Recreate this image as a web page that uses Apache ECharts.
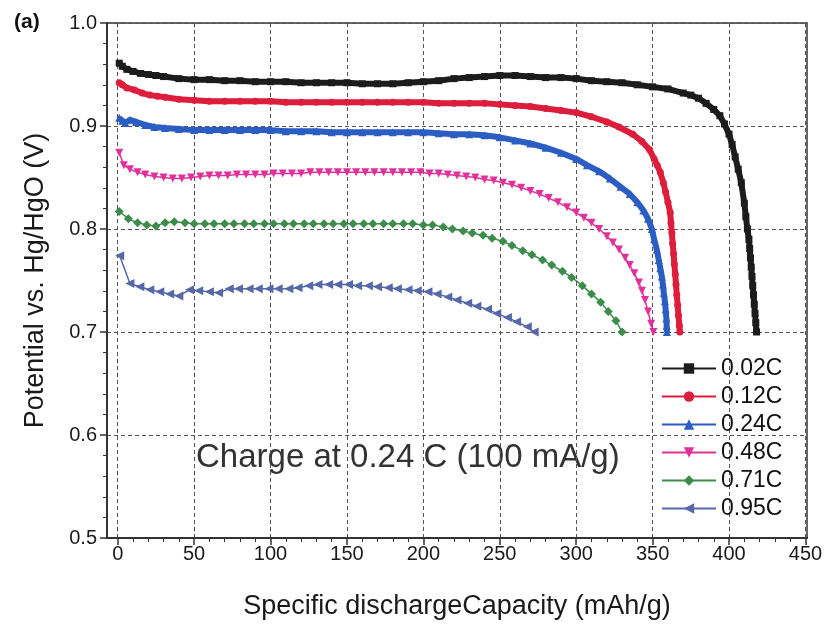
<!DOCTYPE html>
<html><head><meta charset="utf-8">
<script src="https://cdn.jsdelivr.net/npm/echarts@6/dist/echarts.min.js"></script>
<style>html,body{margin:0;padding:0;background:#fff}#c{width:826px;height:625px}</style>
</head><body><div id="c"></div>
<script>
const seriesNames = ['0.02C','0.12C','0.24C','0.48C','0.71C','0.95C'];
const xTickValues = [0,50,100,150,200,250,300,350,400,450];
const xMinorTickValues = [10,20,30,40,60,70,80,90,110,120,130,140,160,170,180,190,210,220,230,240,260,270,280,290,310,320,330,340,360,370,380,390,410,420,430,440];

const d002 = [[1,0.961],[3,0.958],[6,0.955],[10,0.953],[15,0.951],[20,0.950],[25,0.949],[30,0.948],[40,0.946],[50,0.945],[60,0.945],[70,0.944],[80,0.944],[90,0.943],[100,0.943],[110,0.943],[120,0.942],[130,0.942],[140,0.942],[150,0.942],[160,0.941],[170,0.941],[180,0.941],[190,0.942],[200,0.943],[210,0.944],[220,0.946],[230,0.947],[240,0.948],[250,0.949],[260,0.949],[270,0.948],[280,0.947],[290,0.947],[300,0.946],[310,0.944],[320,0.943],[330,0.942],[340,0.940],[350,0.938],[360,0.936],[370,0.932],[375,0.930],[380,0.927],[385,0.922],[390,0.916],[394,0.910],[397,0.902],[400,0.892],[402,0.882],[404,0.870],[406,0.858],[408,0.845],[410,0.825],[411,0.812],[412,0.800],[413,0.790],[413.5,0.781],[414,0.772],[414.5,0.763],[415,0.754],[415.5,0.745],[416,0.736],[416.5,0.727],[417,0.718],[417.5,0.709],[418,0.700]];

const d012 = [[1,0.942],[3,0.940],[6,0.937],[11,0.935],[16,0.932],[21,0.930],[26,0.929],[31,0.928],[40,0.926],[50,0.925],[60,0.924],[70,0.924],[80,0.924],[90,0.924],[100,0.924],[110,0.923],[120,0.923],[130,0.923],[140,0.923],[150,0.923],[160,0.923],[170,0.923],[180,0.923],[190,0.923],[200,0.923],[210,0.922],[220,0.922],[230,0.922],[240,0.922],[250,0.921],[260,0.920],[270,0.919],[280,0.917],[290,0.915],[300,0.913],[310,0.909],[320,0.904],[328,0.899],[337,0.892],[343,0.885],[348,0.877],[351,0.868],[353,0.862],[355,0.855],[357,0.845],[358.5,0.836],[360,0.826],[361.5,0.816],[362,0.806],[362.6,0.796],[363.1,0.786],[363.7,0.776],[364.2,0.766],[364.8,0.756],[365.3,0.746],[365.8,0.736],[366.4,0.726],[366.9,0.716],[367.5,0.706],[367.8,0.700]];

const d024 = [[1,0.908],[3,0.905],[5,0.903],[8,0.906],[12,0.904],[18,0.901],[24,0.899],[31,0.898],[40,0.897],[50,0.896],[60,0.896],[70,0.896],[80,0.896],[90,0.896],[100,0.896],[110,0.895],[120,0.895],[130,0.895],[140,0.894],[150,0.894],[160,0.894],[170,0.894],[180,0.894],[190,0.894],[200,0.894],[210,0.893],[220,0.892],[230,0.892],[240,0.891],[250,0.889],[260,0.886],[270,0.883],[280,0.879],[290,0.874],[300,0.868],[307,0.862],[315,0.856],[322,0.849],[329,0.841],[335,0.834],[340,0.826],[344,0.818],[347,0.810],[349.5,0.800],[351,0.790],[352.7,0.780],[354,0.770],[355,0.762],[356,0.754],[356.7,0.746],[357.3,0.738],[358,0.730],[358.5,0.722],[359,0.713],[359.2,0.706],[359.3,0.700]];

const d048 = [[1,0.874],[4,0.862],[8,0.858],[13,0.855],[18,0.853],[24,0.851],[30,0.850],[36,0.849],[42,0.849],[48,0.850],[54,0.851],[60,0.852],[66,0.852],[72,0.852],[78,0.853],[84,0.853],[90,0.853],[96,0.853],[102,0.854],[108,0.854],[114,0.854],[120,0.854],[126,0.855],[132,0.855],[138,0.855],[144,0.855],[150,0.855],[156,0.855],[162,0.855],[168,0.855],[174,0.855],[180,0.855],[186,0.855],[192,0.855],[198,0.855],[204,0.854],[210,0.854],[216,0.853],[222,0.852],[228,0.851],[234,0.850],[240,0.848],[246,0.847],[252,0.845],[258,0.843],[264,0.840],[270,0.837],[276,0.834],[282,0.830],[288,0.826],[294,0.821],[300,0.816],[305,0.811],[310,0.806],[315,0.800],[320,0.793],[324,0.787],[328,0.780],[332,0.772],[335,0.765],[338,0.757],[341,0.748],[343,0.740],[345,0.731],[347,0.720],[349,0.708],[350.5,0.700]];

const d071 = [[1,0.817],[7,0.810],[13,0.806],[19,0.804],[25,0.803],[31,0.806],[37,0.807],[44,0.806],[50,0.805],[57,0.805],[63,0.805],[70,0.805],[76,0.805],[83,0.805],[89,0.805],[96,0.805],[102,0.805],[109,0.805],[115,0.805],[122,0.805],[128,0.805],[135,0.805],[141,0.805],[148,0.805],[154,0.805],[161,0.805],[167,0.805],[174,0.805],[180,0.805],[187,0.805],[193,0.805],[200,0.804],[206,0.804],[213,0.802],[219,0.800],[226,0.798],[232,0.796],[239,0.794],[245,0.791],[252,0.788],[258,0.784],[265,0.779],[271,0.775],[278,0.770],[284,0.765],[291,0.759],[297,0.753],[304,0.745],[310,0.737],[316,0.729],[321,0.720],[326,0.711],[330,0.700]];

const d095 = [[1.3,0.774],[8,0.747],[14.5,0.744],[21,0.741],[27.5,0.739],[34,0.737],[40,0.735],[47,0.741],[53,0.740],[60,0.739],[66,0.738],[73,0.742],[79,0.742],[86,0.742],[92,0.742],[99,0.742],[105,0.742],[112,0.742],[118,0.743],[125,0.745],[131,0.746],[138,0.746],[144,0.746],[151,0.746],[157,0.745],[164,0.745],[170,0.744],[177,0.743],[183,0.742],[190,0.741],[196,0.740],[203,0.739],[209,0.737],[216,0.734],[222,0.731],[229,0.728],[235,0.725],[242,0.722],[248,0.718],[255,0.714],[261,0.710],[268,0.705],[272.5,0.700]];

const FONT = '"Liberation Sans", Arial, Helvetica, sans-serif';
const colors = ['#1c1c1c','#dc1e3c','#2b5dc2','#e2309a','#3c8c4c','#5668a8'];
const dataSets = [d002,d012,d024,d048,d071,d095];
const symbols = ['rect','circle','triangle','triangle','diamond','triangle'];
const rotates = [0,0,0,180,0,90];
const sizes = [7,7,8,8,9,9];
const widths = [6,6,6,1.5,1.5,1.5];

const series = seriesNames.map((n,i)=>({
  name:n, type:'line', data:dataSets[i], symbol:symbols[i], symbolRotate:rotates[i],
  symbolSize:sizes[i], showAllSymbol:true, showSymbol:true, smooth:false,
  lineStyle:{color:colors[i], width:widths[i]}, itemStyle:{color:colors[i]},
  xAxisIndex:0, yAxisIndex:0, animation:false, z: 10 - i
}));

const chart = echarts.init(document.getElementById('c'), null, {renderer:'canvas'});
chart.setOption({
  backgroundColor:'#fff',
  animation:false,
  grid:{left:107, top:23, width:700, height:516, show:true, borderColor:'#333', borderWidth:1.5, backgroundColor:'transparent'},
  xAxis:[{
    type:'value', min:-7, max:451, position:'bottom',
    name:'Specific dischargeCapacity (mAh/g)', nameLocation:'middle', nameGap:55,
    nameTextStyle:{fontSize:27, color:'#1a1a1a', fontFamily:FONT},
    axisLine:{show:true, onZero:false, lineStyle:{color:'#333', width:2}},
    axisTick:{show:true, customValues:xTickValues, length:7, lineStyle:{color:'#333', width:1.5}},
    axisLabel:{show:true, customValues:xTickValues, fontSize:20, color:'#1a1a1a', fontFamily:FONT, margin:6},
    splitLine:{show:true, lineStyle:{color:'#555', width:1, type:[4,3]}}
  },{
    type:'value', min:-7, max:451, position:'bottom',
    axisLine:{show:false},
    axisTick:{show:true, customValues:xMinorTickValues, length:4, lineStyle:{color:'#333', width:1}},
    axisLabel:{show:false}, splitLine:{show:false}
  }],
  yAxis:{
    type:'value', min:0.5, max:1.0, interval:0.1,
    name:'Potential vs. Hg/HgO (V)', nameLocation:'middle', nameGap:58,
    nameTextStyle:{fontSize:27, color:'#1a1a1a', fontFamily:FONT},
    axisLine:{show:true, onZero:false, lineStyle:{color:'#333', width:2}},
    axisTick:{show:true, length:7, lineStyle:{color:'#333', width:1.5}},
    minorTick:{show:true, splitNumber:5, length:4, lineStyle:{color:'#333', width:1}},
    axisLabel:{fontSize:20, color:'#1a1a1a', fontFamily:FONT, margin:10, formatter:v=>v.toFixed(1)},
    splitLine:{show:true, lineStyle:{color:'#555', width:1, type:[4,3]}}
  },
  legend:{
    orient:'vertical', left:656, top:352, itemWidth:54, itemHeight:13, itemGap:5,
    data:seriesNames, selectedMode:false,
    textStyle:{fontSize:23, color:'#111', fontFamily:FONT, lineHeight:23},
    lineStyle:{width:2}
  },
  graphic:[
    {type:'text', left:14, top:12, style:{text:'(a)', font:'bold 21px '+FONT, fill:'#111'}},
    {type:'text', left:196, top:441, style:{text:'Charge at 0.24 C (100 mA/g)', font:'33px '+FONT, fill:'#333'}}
  ],
  series:series
});
</script></body></html>
